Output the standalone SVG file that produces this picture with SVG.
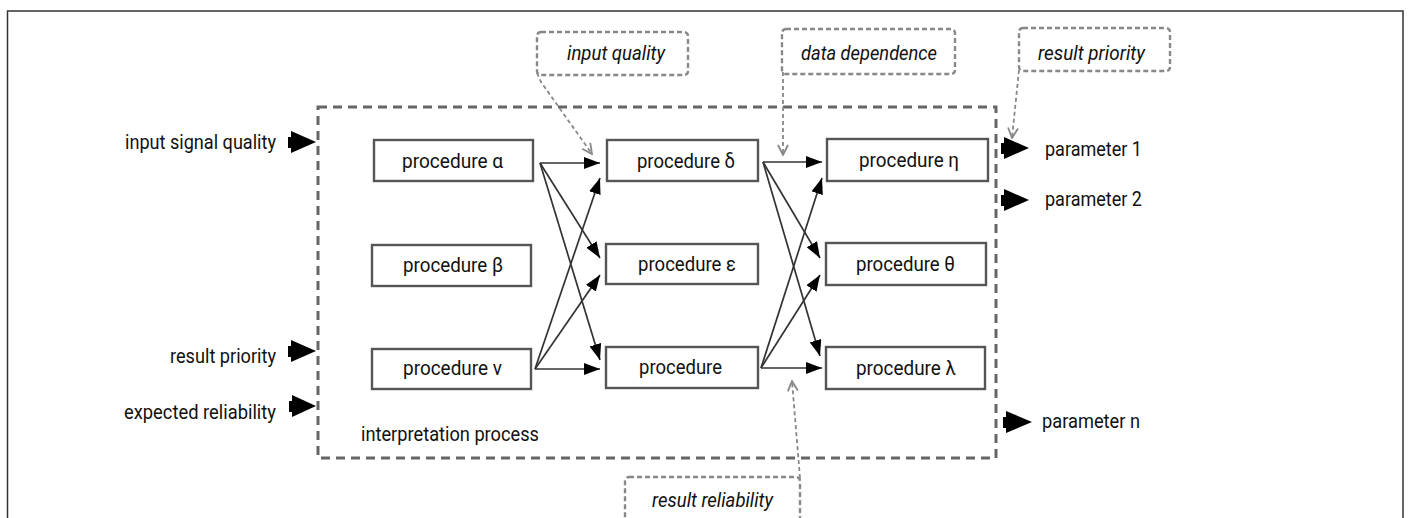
<svg xmlns="http://www.w3.org/2000/svg" width="1412" height="518" viewBox="0 0 1412 518">
<style>
  .t { font-family: Roboto, "Liberation Sans", sans-serif; font-size: 21px; fill: #111; }
  .ti { font-family: Roboto, "Liberation Sans", sans-serif; font-size: 21px; font-style: italic; fill: #111; }
  .box { fill: #fff; stroke: #555; stroke-width: 2.4; }
  .callout { fill: none; stroke: #888; stroke-width: 2.4; stroke-dasharray: 5 3; }
  .conn { stroke: #333; stroke-width: 1.7; fill: none; marker-end: url(#ah); }
  .cconn { stroke: #888; stroke-width: 1.8; fill: none; stroke-dasharray: 4 3; marker-end: url(#va); }
  .io { fill: #000; }
</style>
<defs>
  <marker id="ah" markerWidth="16" markerHeight="12" refX="16" refY="6" orient="auto" markerUnits="userSpaceOnUse">
    <path d="M0,0 L16,6 L0,12 z" fill="#000"/>
  </marker>
  <marker id="va" markerWidth="12" markerHeight="12" refX="11" refY="6" orient="auto" markerUnits="userSpaceOnUse">
    <path d="M1,1 L11,6 L1,11" fill="none" stroke="#888" stroke-width="1.8"/>
  </marker>
</defs>
<rect width="1412" height="518" fill="#fff"/>
<path d="M7.5,520 V11 H1403 V520" fill="none" stroke="#333" stroke-width="1.5"/>

<g id="process">
  <rect x="318" y="107" width="678" height="351" fill="none" stroke="#666" stroke-width="3" stroke-dasharray="9 6"/>
  <text class="t" x="361" y="441" textLength="178" lengthAdjust="spacingAndGlyphs">interpretation process</text>
</g>

<g id="proc-alpha"><rect class="box" x="374" y="140" width="159" height="41"/><text class="t" x="402" y="168" textLength="101" lengthAdjust="spacingAndGlyphs">procedure α</text></g>
<g id="proc-beta"><rect class="box" x="372" y="245" width="159" height="41"/><text class="t" x="403" y="272" textLength="100" lengthAdjust="spacingAndGlyphs">procedure β</text></g>
<g id="proc-nu"><rect class="box" x="372" y="349" width="159" height="40"/><text class="t" x="403" y="375" textLength="99" lengthAdjust="spacingAndGlyphs">procedure ν</text></g>
<g id="proc-delta"><rect class="box" x="607" y="140" width="151" height="41"/><text class="t" x="637" y="168" textLength="98" lengthAdjust="spacingAndGlyphs">procedure δ</text></g>
<g id="proc-epsilon"><rect class="box" x="606" y="244" width="152" height="40"/><text class="t" x="638" y="271" textLength="98" lengthAdjust="spacingAndGlyphs">procedure ε</text></g>
<g id="proc-unnamed"><rect class="box" x="606" y="347" width="152" height="41"/><text class="t" x="639" y="374" textLength="83" lengthAdjust="spacingAndGlyphs">procedure</text></g>
<g id="proc-eta"><rect class="box" x="827" y="139" width="161" height="42"/><text class="t" x="859" y="167" textLength="100" lengthAdjust="spacingAndGlyphs">procedure η</text></g>
<g id="proc-theta"><rect class="box" x="826" y="243" width="160" height="42"/><text class="t" x="856" y="271" textLength="99" lengthAdjust="spacingAndGlyphs">procedure θ</text></g>
<g id="proc-lambda"><rect class="box" x="826" y="347" width="159" height="42"/><text class="t" x="856" y="375" textLength="100" lengthAdjust="spacingAndGlyphs">procedure λ</text></g>

<g id="in-input-signal-quality">
  <text class="t" x="125" y="149" textLength="151" lengthAdjust="spacingAndGlyphs">input signal quality</text>
  <rect class="io" x="288" y="137" width="5" height="11"/><path class="io" d="M291,131 L316,142 L291,153 z"/>
</g>
<g id="in-result-priority">
  <text class="t" x="170" y="363" textLength="106" lengthAdjust="spacingAndGlyphs">result priority</text>
  <rect class="io" x="288" y="346" width="5" height="11"/><path class="io" d="M291,340 L316,351 L291,362 z"/>
</g>
<g id="in-expected-reliability">
  <text class="t" x="124" y="419" textLength="152" lengthAdjust="spacingAndGlyphs">expected reliability</text>
  <rect class="io" x="289" y="401" width="5" height="11"/><path class="io" d="M292,395 L316,406 L292,417 z"/>
</g>

<g id="out-parameter-1">
  <rect class="io" x="1001" y="143" width="5" height="11"/><path class="io" d="M1004,137 L1029,148 L1004,159 z"/>
  <text class="t" x="1045" y="156" textLength="97" lengthAdjust="spacingAndGlyphs">parameter 1</text>
</g>
<g id="out-parameter-2">
  <rect class="io" x="1001" y="195" width="5" height="11"/><path class="io" d="M1004,189 L1029,200 L1004,211 z"/>
  <text class="t" x="1045" y="206" textLength="97" lengthAdjust="spacingAndGlyphs">parameter 2</text>
</g>
<g id="out-parameter-n">
  <rect class="io" x="1003" y="417" width="5" height="11"/><path class="io" d="M1006,411 L1032,422 L1006,433 z"/>
  <text class="t" x="1042" y="428" textLength="98" lengthAdjust="spacingAndGlyphs">parameter n</text>
</g>

<g id="callout-input-quality">
  <rect class="callout" x="537" y="32" width="151" height="43" rx="4"/>
  <text class="ti" x="567" y="60" textLength="98" lengthAdjust="spacingAndGlyphs">input quality</text>
</g>
<g id="callout-data-dependence">
  <rect class="callout" x="782" y="29" width="173" height="45" rx="4"/>
  <text class="ti" x="801" y="60" textLength="136" lengthAdjust="spacingAndGlyphs">data dependence</text>
</g>
<g id="callout-result-priority">
  <rect class="callout" x="1019" y="28" width="151" height="43" rx="4"/>
  <text class="ti" x="1038" y="60" textLength="107" lengthAdjust="spacingAndGlyphs">result priority</text>
</g>
<g id="callout-result-reliability">
  <rect class="callout" x="625" y="477" width="175" height="50" rx="4"/>
  <text class="ti" x="652" y="507" textLength="121" lengthAdjust="spacingAndGlyphs">result reliability</text>
</g>

<g id="connectors">
  <path class="conn" d="M540,163 L600,163"/>
  <path class="conn" d="M540,163 L600,258"/>
  <path class="conn" d="M540,163 L600,360"/>
  <path class="conn" d="M535,369 L600,369"/>
  <path class="conn" d="M535,369 L600,275"/>
  <path class="conn" d="M535,369 L600,178"/>
  <path class="conn" d="M763,162 L822,162"/>
  <path class="conn" d="M763,162 L820,258"/>
  <path class="conn" d="M763,162 L820,356"/>
  <path class="conn" d="M761,368 L822,368"/>
  <path class="conn" d="M761,368 L820,275"/>
  <path class="conn" d="M761,368 L822,178"/>
  <path class="cconn" d="M537,73 L541,82 L592,154"/>
  <path class="cconn" d="M783,72 L783,155"/>
  <path class="cconn" d="M1019,70 L1012,138"/>
  <path class="cconn" d="M800,478 L792,381"/>
</g>
</svg>
